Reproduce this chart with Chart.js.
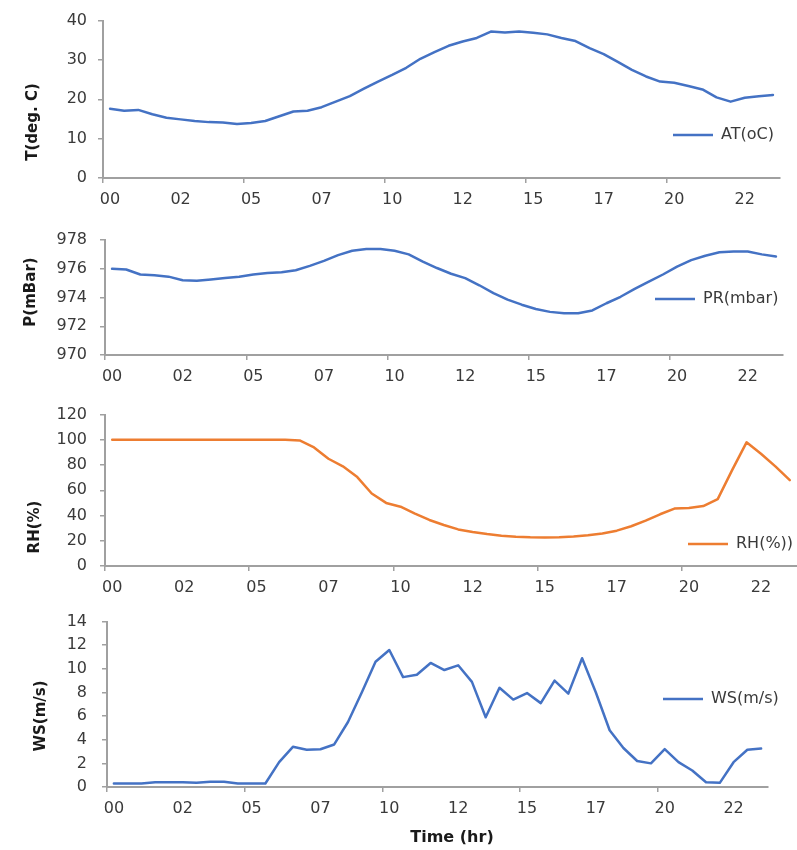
<!DOCTYPE html>
<html>
<head>
<meta charset="utf-8">
<title>Diurnal weather record</title>
<script src="https://cdn.jsdelivr.net/npm/chart.js@4/dist/chart.umd.min.js"></script>
<style>
  html, body { margin: 0; padding: 0; background: #ffffff; }
  #wrap { position: relative; width: 797px; height: 850px; overflow: hidden; }
  #wrap canvas { position: absolute; left: 0; }
</style>
</head>
<body>
<div id="wrap">
  <canvas id="cAT" width="797" height="212" style="top:0px"></canvas>
  <canvas id="cPR" width="797" height="180" style="top:212px"></canvas>
  <canvas id="cRH" width="797" height="205" style="top:392px"></canvas>
  <canvas id="cWS" width="797" height="253" style="top:597px"></canvas>
</div>
<script>
// Half-hourly readings over one day
const times = [
  '00:00','00:30','01:00','01:30','02:00','02:30','03:00','03:30',
  '04:00','04:30','05:00','05:30','06:00','06:30','07:00','07:30',
  '08:00','08:30','09:00','09:30','10:00','10:30','11:00','11:30',
  '12:00','12:30','13:00','13:30','14:00','14:30','15:00','15:30',
  '16:00','16:30','17:00','17:30','18:00','18:30','19:00','19:30',
  '20:00','20:30','21:00','21:30','22:00','22:30','23:00','23:30'
];

// Air temperature (deg C)
const airTemp = [
  17.6, 17.1, 17.3, 16.2, 15.3, 14.9, 14.5, 14.2, 14.1, 13.7, 14.0, 14.5,
  15.7, 16.9, 17.1, 18.0, 19.4, 20.8, 22.7, 24.5, 26.2, 28.0, 30.3, 32.0,
  33.6, 34.7, 35.6, 37.2, 37.0, 37.2, 36.9, 36.5, 35.6, 34.8, 33.0, 31.5,
  29.5, 27.5, 25.8, 24.5, 24.2, 23.4, 22.5, 20.5, 19.4, 20.4, 20.8, 21.1
];

// Station pressure (mbar)
const pressure = [
  976.0, 975.95, 975.6, 975.55, 975.45, 975.2, 975.17, 975.25, 975.35, 975.45, 975.6, 975.7,
  975.75, 975.9, 976.2, 976.55, 976.95, 977.25, 977.38, 977.38, 977.25, 977.0, 976.5, 976.05,
  975.65, 975.35, 974.85, 974.3, 973.85, 973.5, 973.2, 973.0, 972.9, 972.9, 973.1, 973.6,
  974.05, 974.6, 975.1, 975.6, 976.15, 976.6, 976.9, 977.15, 977.2, 977.2, 977.0, 976.85
];

// Relative humidity (%)
const humidity = [
  100, 100, 100, 100, 100, 100, 100, 100, 100, 100, 100, 100,
  100, 99.5, 94, 85, 79, 70.5, 57.5, 50, 47, 41.5, 36.5, 32.5,
  29, 27, 25.3, 24, 23.2, 22.7, 22.6, 22.8, 23.3, 24.3, 25.8, 28,
  31.5, 36, 41, 45.5, 46, 47.5, 53, 76, 98, 89, 79, 68
];

// Wind speed (m/s)
const windSpeed = [
  0.3, 0.3, 0.3, 0.4, 0.4, 0.4, 0.35, 0.45, 0.45, 0.3, 0.3, 0.3,
  2.1, 3.4, 3.15, 3.2, 3.6, 5.5, 8.0, 10.6, 11.6, 9.3, 9.5, 10.5,
  9.9, 10.3, 8.9, 5.9, 8.4, 7.4, 7.95, 7.1, 9.0, 7.9, 10.9, 8.0,
  4.8, 3.3, 2.2, 2.0, 3.2, 2.1, 1.4, 0.4, 0.35, 2.1, 3.15, 3.25
];

const labelEvery = 5;     // one hour label every 2.5 h
const tickMarkEvery = 10; // axis tick mark every 5 h

const BLUE = '#4472c4';
const ORANGE = '#ed7d31';
const AXIS = '#a0a0a0';
const TEXT = '#3a3a3a';
const FONT = '"DejaVu Sans", "Liberation Sans", sans-serif';

// Draws the rotated side title, the legend entry and the optional x title
const panelText = {
  id: 'panelText',
  afterDraw(chart, _args, o) {
    const ctx = chart.ctx;
    const ds = chart.data.datasets[0];

    ctx.save();
    ctx.font = 'bold 15px ' + FONT;
    ctx.fillStyle = '#1a1a1a';
    ctx.textAlign = 'center';
    ctx.textBaseline = 'middle';
    ctx.translate(o.yTitleX, o.yTitleY);
    ctx.rotate(-Math.PI / 2);
    ctx.fillText(o.yTitle, 0, 0);
    ctx.restore();

    ctx.save();
    ctx.strokeStyle = ds.borderColor;
    ctx.lineWidth = ds.borderWidth;
    ctx.beginPath();
    ctx.moveTo(o.legendX, o.legendY);
    ctx.lineTo(o.legendX + 40, o.legendY);
    ctx.stroke();
    ctx.font = '16px ' + FONT;
    ctx.fillStyle = TEXT;
    ctx.textAlign = 'left';
    ctx.textBaseline = 'middle';
    ctx.fillText(ds.label, o.legendX + 48, o.legendY);
    ctx.restore();

    if (o.xTitle) {
      ctx.save();
      ctx.font = 'bold 16px ' + FONT;
      ctx.fillStyle = '#1a1a1a';
      ctx.textAlign = 'center';
      ctx.textBaseline = 'middle';
      ctx.fillText(o.xTitle, o.xTitleX, o.xTitleY);
      ctx.restore();
    }
  }
};

const panels = [
  { id: 'cAT', top: 0,   height: 212, axisX: 103, right: 780, plotTop: 15,  plotBottom: 178,
    values: airTemp, label: 'AT(oC)', color: BLUE, min: 0, max: 40, step: 10,
    yTitle: 'T(deg. C)', yTitleX: 33, yTitleY: 122, legendX: 673, legendY: 135 },
  { id: 'cPR', top: 212, height: 180, axisX: 105, right: 783, plotTop: 240, plotBottom: 355,
    values: pressure, label: 'PR(mbar)', color: BLUE, min: 970, max: 978, step: 2,
    yTitle: 'P(mBar)', yTitleX: 31, yTitleY: 292, legendX: 655, legendY: 299 },
  { id: 'cRH', top: 392, height: 205, axisX: 105, right: 797, plotTop: 405, plotBottom: 566,
    values: humidity, label: 'RH(%))', color: ORANGE, min: 0, max: 120, step: 20,
    yTitle: 'RH(%)', yTitleX: 35, yTitleY: 527, legendX: 688, legendY: 544 },
  { id: 'cWS', top: 597, height: 253, axisX: 107, right: 768, plotTop: 615, plotBottom: 787,
    values: windSpeed, label: 'WS(m/s)', color: BLUE, min: 0, max: 14, step: 2,
    yTitle: 'WS(m/s)', yTitleX: 41, yTitleY: 716, legendX: 663, legendY: 699,
    xTitle: 'Time (hr)', xTitleX: 452, xTitleY: 838 }
];

const labelRight = 87;

panels.forEach(p => {
  const canvas = document.getElementById(p.id);
  new Chart(canvas, {
    type: 'line',
    data: {
      labels: times,
      datasets: [{
        label: p.label,
        data: p.values,
        borderColor: p.color,
        backgroundColor: p.color,
        borderWidth: 2.5,
        borderJoinStyle: 'round',
        borderCapStyle: 'round',
        pointRadius: 0,
        pointHoverRadius: 0,
        tension: 0,
        fill: false
      }]
    },
    options: {
      responsive: false,
      animation: false,
      devicePixelRatio: 1,
      events: [],
      layout: {
        padding: { left: 0, right: 797 - p.right, top: p.plotTop - p.top, bottom: 0 }
      },
      plugins: {
        legend: { display: false },
        tooltip: { enabled: false },
        panelText: {
          yTitle: p.yTitle,
          yTitleX: p.yTitleX,
          yTitleY: p.yTitleY - p.top,
          legendX: p.legendX,
          legendY: p.legendY - p.top,
          xTitle: p.xTitle || '',
          xTitleX: p.xTitleX || 0,
          xTitleY: (p.xTitleY || 0) - p.top
        }
      },
      scales: {
        x: {
          type: 'category',
          offset: true,
          border: { display: true, color: AXIS, width: 2 },
          grid: {
            offset: true,
            drawOnChartArea: false,
            drawTicks: true,
            tickLength: 5,
            lineWidth: 1.5,
            color: ctx => (ctx.index % tickMarkEvery === 0 ? AXIS : 'rgba(0,0,0,0)')
          },
          ticks: {
            autoSkip: false,
            maxRotation: 0,
            minRotation: 0,
            padding: 7,
            color: TEXT,
            font: { family: FONT, size: 16 },
            callback: (val, i) => (i % labelEvery === 0 ? times[i].slice(0, 2) : '')
          },
          afterFit: s => { s.height = p.top + p.height - p.plotBottom; }
        },
        y: {
          min: p.min,
          max: p.max,
          border: { display: true, color: AXIS, width: 2 },
          grid: {
            drawOnChartArea: false,
            drawTicks: true,
            tickLength: 5,
            lineWidth: 1.5,
            color: AXIS
          },
          ticks: {
            stepSize: p.step,
            padding: p.axisX - 5 - labelRight,
            color: TEXT,
            font: { family: FONT, size: 16 }
          },
          afterFit: s => { s.width = p.axisX; }
        }
      }
    },
    plugins: [panelText]
  });
});
</script>
</body>
</html>
